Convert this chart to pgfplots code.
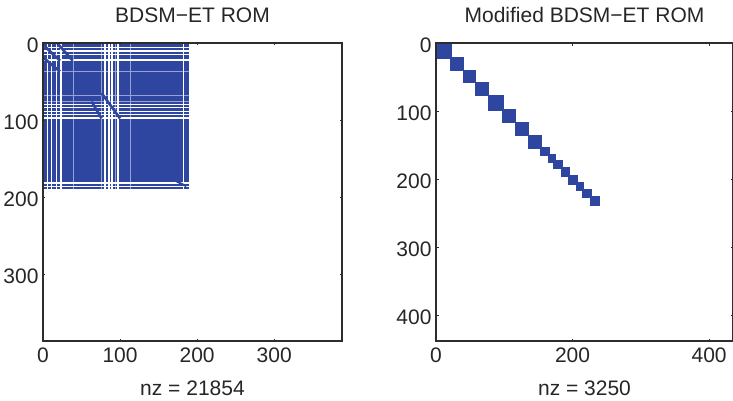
\documentclass[border=0pt]{standalone}
\usepackage{fontspec}
\setmainfont{Liberation Sans}
\usepackage{pgfplots}
\pgfplotsset{compat=1.18}
\definecolor{spy}{RGB}{47,70,160}
\definecolor{spyl}{RGB}{150,162,210}
\definecolor{ax}{RGB}{45,45,45}
\pgfplotsset{spyax/.style={
  scale only axis, y dir=reverse, axis on top,
  /pgf/number format/assume math mode=true,
  tick align=inside, major tick length=2.5pt,
  tick style={ax,line width=0.5pt},
  axis line style={ax,line width=1.2pt},
  tick label style={font=\fontsize{21}{21}\selectfont,text=black!85},
  xtick pos=both, ytick pos=both,
  xticklabel pos=bottom, yticklabel pos=left,
  scaled ticks=false,
  every axis x label/.style={at={(axis description cs:0.5,0)},anchor=base,yshift=-54pt,font=\fontsize{21}{21}\selectfont,text=black!85},
  every axis title/.style={at={(axis description cs:0.5,1)},anchor=base,yshift=20pt,font=\fontsize{21}{21}\selectfont,text=black!85},
  xticklabel style={yshift=-3pt},
  yticklabel style={xshift=-1pt,yshift=-2pt}
},
blk/.style={fill=spy,draw=spy,line width=0.9pt,mark=none},
wht/.style={white,line width=#1,mark=none},
fnt/.style={spyl,line width=0.9pt,mark=none},
dg/.style={spy,line width=#1,mark=none}}
\begin{document}
\begin{tikzpicture}[x=1pt,y=1pt]
\useasboundingbox (0,0) rectangle (733,401);
\begin{axis}[spyax, at={(43pt,60pt)}, anchor=south west, width=299pt, height=298pt,
  xmin=0,xmax=388,ymin=0,ymax=387,
  xtick={0,100,200,300}, ytick={0,100,200,300},
  title={BDSM−ET ROM}, xlabel={nz = 21854}]
\addplot[fill=spy,draw=none,mark=none] coordinates {(0,0)(189,0)(189,189)(0,189)} -- cycle;
% faint stripes
\addplot[fnt] coordinates {(39,0)(39,189)};
\addplot[fnt] coordinates {(76,0)(76,189)};
\addplot[fnt] coordinates {(93.5,0)(93.5,189)};
\addplot[fnt] coordinates {(113,0)(113,189)};
\addplot[fnt] coordinates {(0,37)(189,37)};
\addplot[fnt] coordinates {(0,67.5)(189,67.5)};
\addplot[fnt] coordinates {(0,76)(189,76)};
% white vertical stripes
\addplot[wht=1.3pt] coordinates {(5.6,0)(5.6,189)};
\addplot[wht=1.3pt] coordinates {(11.3,0)(11.3,189)};
\addplot[wht=1.2pt] coordinates {(17,0)(17,189)};
\addplot[wht=1.8pt] coordinates {(23,0)(23,189)};
\addplot[wht=1.3pt] coordinates {(80.5,0)(80.5,189)};
\addplot[wht=1.3pt] coordinates {(85.7,0)(85.7,189)};
\addplot[wht=1.3pt] coordinates {(89.6,0)(89.6,189)};
\addplot[wht=1.9pt] coordinates {(97.5,0)(97.5,189)};
\addplot[wht=1.4pt] coordinates {(182,0)(182,189)};
% white horizontal stripes
\addplot[wht=1.3pt] coordinates {(0,5.6)(189,5.6)};
\addplot[wht=1.3pt] coordinates {(0,10.4)(189,10.4)};
\addplot[wht=1.2pt] coordinates {(0,14.7)(189,14.7)};
\addplot[wht=1.8pt] coordinates {(0,22)(189,22)};
\addplot[wht=1.3pt] coordinates {(0,80)(189,80)};
\addplot[wht=1.3pt] coordinates {(0,84)(189,84)};
\addplot[wht=1.2pt] coordinates {(0,88.5)(189,88.5)};
\addplot[wht=1.3pt] coordinates {(0,92.5)(189,92.5)};
\addplot[wht=1.9pt] coordinates {(0,97.5)(189,97.5)};
\addplot[wht=1.4pt] coordinates {(0,182)(189,182)};
\addplot[wht=1.2pt] coordinates {(0,186.5)(189,186.5)};
% diagonal bands
\addplot[dg=2.6pt] coordinates {(0.4,2.6)(22,23)};
\addplot[dg=2.6pt] coordinates {(0.4,19)(22,37)};
\addplot[dg=2.6pt] coordinates {(18.6,0.4)(38.6,23)};
\addplot[dg=2.6pt] coordinates {(63,76)(76,98)};
\addplot[dg=2.6pt] coordinates {(76,65)(100,98)};
\addplot[dg=2pt] coordinates {(172,179)(186,186)};
\end{axis}
\begin{axis}[spyax, at={(436pt,60pt)}, anchor=south west, width=297pt, height=298pt,
  xmin=0,xmax=435,ymin=0,ymax=438,
  xtick={0,200,400}, ytick={0,100,200,300,400},
  title={Modified BDSM−ET ROM}, xlabel={nz = 3250}]
\addplot[blk] coordinates {(0,0)(22,0)(22,22)(0,22)} -- cycle;
\addplot[blk] coordinates {(21.5,21.5)(40,21.5)(40,40)(21.5,40)} -- cycle;
\addplot[blk] coordinates {(40,40)(58.5,40)(58.5,58.5)(40,58.5)} -- cycle;
\addplot[blk] coordinates {(58,58)(77,58)(77,77)(58,77)} -- cycle;
\addplot[blk] coordinates {(76.5,76.5)(99,76.5)(99,99)(76.5,99)} -- cycle;
\addplot[blk] coordinates {(98,98)(117,98)(117,117)(98,117)} -- cycle;
\addplot[blk] coordinates {(116.5,116.5)(136,116.5)(136,136)(116.5,136)} -- cycle;
\addplot[blk] coordinates {(135.5,135.5)(155,135.5)(155,155)(135.5,155)} -- cycle;
\addplot[blk] coordinates {(153,153)(166,153)(166,166)(153,166)} -- cycle;
\addplot[blk] coordinates {(164.5,164.5)(175.5,164.5)(175.5,175.5)(164.5,175.5)} -- cycle;
\addplot[blk] coordinates {(172.5,172.5)(184.5,172.5)(184.5,184.5)(172.5,184.5)} -- cycle;
\addplot[blk] coordinates {(183,183)(196,183)(196,196)(183,196)} -- cycle;
\addplot[blk] coordinates {(194.5,194.5)(207.5,194.5)(207.5,207.5)(194.5,207.5)} -- cycle;
\addplot[blk] coordinates {(205.5,205.5)(216.5,205.5)(216.5,216.5)(205.5,216.5)} -- cycle;
\addplot[blk] coordinates {(215,215)(227,215)(227,227)(215,227)} -- cycle;
\addplot[blk] coordinates {(226,226)(239,226)(239,239)(226,239)} -- cycle;
\end{axis}
\end{tikzpicture}
\end{document}
